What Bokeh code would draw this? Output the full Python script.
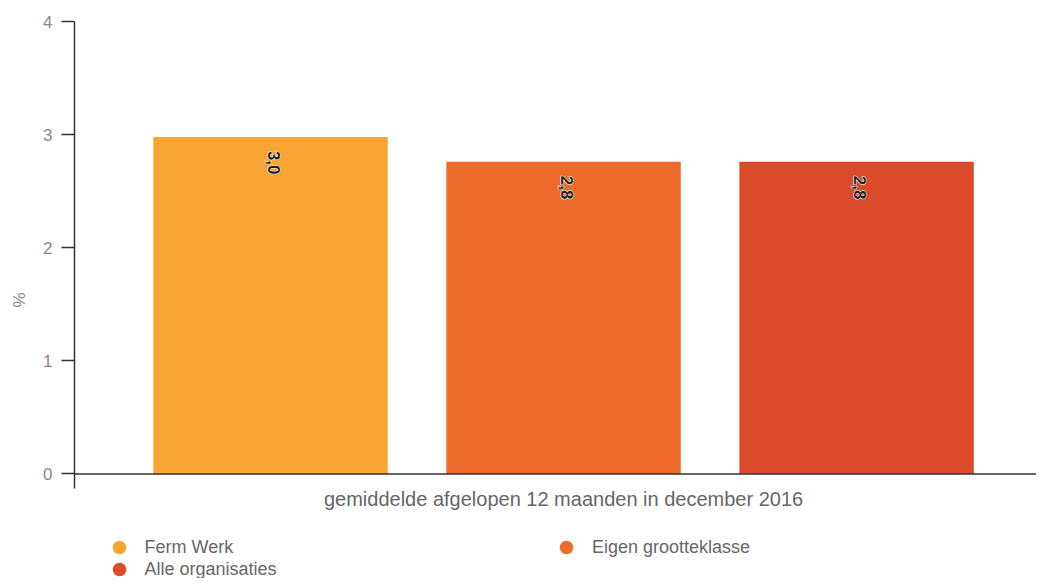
import math
from bokeh.plotting import figure
from bokeh.models import Range1d, FixedTicker, Span, Legend, LegendItem, ColumnDataSource
from bokeh.embed import file_html
from bokeh.resources import INLINE
from bokeh.core.properties import value

# ---- data ----
series = ["Ferm Werk", "Eigen grootteklasse", "Alle organisaties"]
values = [2.98, 2.76, 2.76]
value_labels = ["3,0", "2,8", "2,8"]
colors = ["#F9A533", "#EE6B2C", "#DB4A2B"]
positions = [0, 1, 2]
group_label = "gemiddelde afgelopen 12 maanden in december 2016"
group_pos = 1
y_ticks = [0, 1, 2, 3, 4]
y_label = "%"

FONT = "Liberation Sans"

p = figure(width=1036, height=578,
           x_range=Range1d(-0.669, 2.614), y_range=Range1d(-0.924, 4),
           output_backend="svg", toolbar_location=None,
           min_border_left=74, min_border_right=0,
           min_border_top=21, min_border_bottom=0)
p.xaxis.visible = False
p.xgrid.visible = False
p.ygrid.visible = False
p.outline_line_color = None
p.background_fill_color = "white"
p.border_fill_color = "white"

src = ColumnDataSource(dict(x=positions, top=values, color=colors, lab=value_labels))
p.vbar(x="x", top="top", bottom=0, width=0.8, fill_color="color",
       line_color=None, source=src)

# value labels: white halo underneath, dark text on top
common = dict(x="x", y="top", text="lab", source=src, angle=-math.pi / 2,
              text_align="left", text_baseline="middle", x_offset=3, y_offset=14,
              text_font=value(FONT), text_font_style="bold", text_font_size="17px")
p.text(text_color="white", text_outline_color="white", **common)
p.text(text_color="#222222", **common)

# baseline at 0
p.add_layout(Span(location=0, dimension="width", line_color="#333333", line_width=1.5))

# group label under the bars
p.text(x=[group_pos], y=[0], text=[group_label], text_align="center",
       text_baseline="top", y_offset=14, text_font=value(FONT),
       text_font_size="20px", text_color="#666666")

# y axis
ya = p.yaxis[0]
ya.ticker = FixedTicker(ticks=y_ticks)
ya.bounds = (-0.13, 4)
ya.axis_line_color = "#333333"
ya.axis_line_width = 1.5
ya.major_tick_line_color = "#333333"
ya.major_tick_line_width = 1.5
ya.major_tick_out = 13
ya.major_tick_in = 0
ya.minor_tick_line_color = None
ya.major_label_text_font = FONT
ya.major_label_text_font_size = "17px"
ya.major_label_text_color = "#888888"
ya.major_label_standoff = 9
ya.axis_label = y_label
ya.axis_label_text_font = FONT
ya.axis_label_text_font_size = "17px"
ya.axis_label_text_font_style = "normal"
ya.axis_label_text_color = "#888888"
ya.axis_label_standoff = 11

# legend proxies (circle markers, not drawn in the plot)
leg_src = ColumnDataSource(dict(x=positions, y=[float("nan")] * 3, color=colors))
sc = p.scatter(x="x", y="y", marker="circle", fill_color="color", line_color=None,
               source=leg_src)

legend_locs = [(27.5, 14), (475, 14), (27.5, -8)]
for i in range(3):
    lg = Legend(items=[LegendItem(label=series[i], renderers=[sc], index=i)],
                location=legend_locs[i], orientation="vertical",
                glyph_width=34, glyph_height=34, spacing=0, label_standoff=9,
                padding=0, margin=0, border_line_color=None,
                background_fill_alpha=0, label_text_font=FONT,
                label_text_font_size="18px", label_text_color="#666666")
    p.add_layout(lg)

open("out.html", "w").write(file_html(p, INLINE))
